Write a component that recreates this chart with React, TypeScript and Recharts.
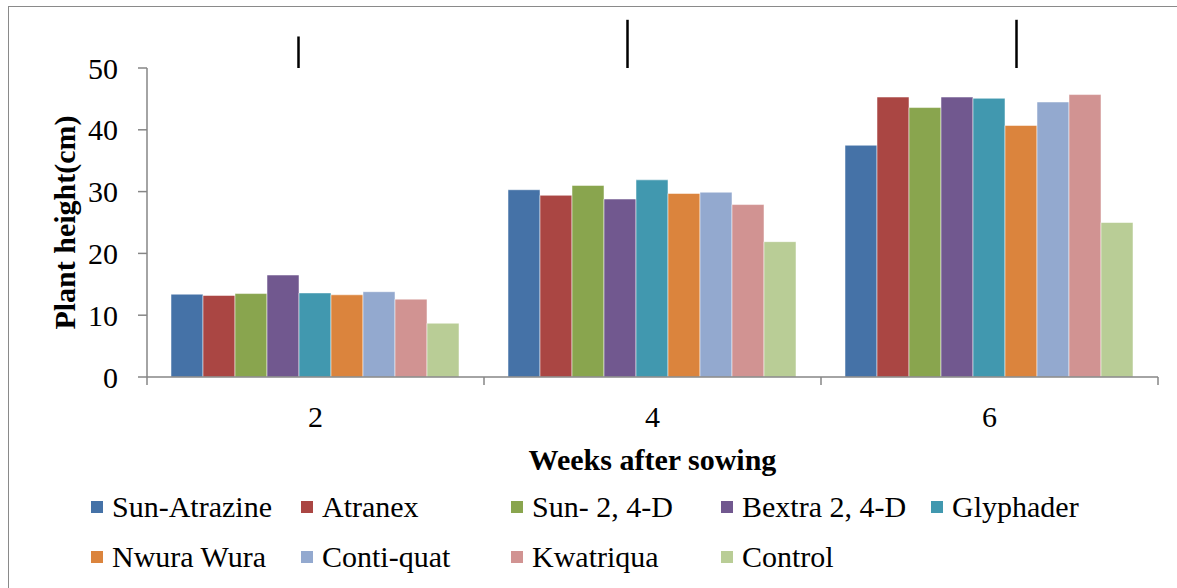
import React from 'react';
import { BarChart, Bar, XAxis, YAxis, Legend, ReferenceLine } from 'recharts';

// weeks after sowing (categories)
const weeks = ['2', '4', '6'];

// plant height (cm) per treatment
const sunAtrazine = [13.4, 30.3, 37.5];
const atranex = [13.2, 29.4, 45.3];
const sun24D = [13.5, 31.0, 43.6];
const bextra24D = [16.5, 28.8, 45.3];
const glyphader = [13.6, 31.9, 45.1];
const nwuraWura = [13.3, 29.7, 40.7];
const contiQuat = [13.8, 29.9, 44.5];
const kwatriqua = [12.6, 27.9, 45.7];
const control = [8.7, 21.9, 25.0];

// LSD bars drawn above the plot (top value, bottom at 50)
const lsdTop = [55.1, 57.8, 57.8];

const yTicks = [0, 10, 20, 30, 40, 50];

const series = [
  { key: 'sunAtrazine', name: 'Sun-Atrazine', color: '#4572A7', values: sunAtrazine },
  { key: 'atranex', name: 'Atranex', color: '#AA4643', values: atranex },
  { key: 'sun24D', name: 'Sun- 2, 4-D', color: '#89A54E', values: sun24D },
  { key: 'bextra24D', name: 'Bextra 2, 4-D', color: '#71588F', values: bextra24D },
  { key: 'glyphader', name: 'Glyphader', color: '#4198AF', values: glyphader },
  { key: 'nwuraWura', name: 'Nwura Wura', color: '#DB843D', values: nwuraWura },
  { key: 'contiQuat', name: 'Conti-quat', color: '#93A9CF', values: contiQuat },
  { key: 'kwatriqua', name: 'Kwatriqua', color: '#D19392', values: kwatriqua },
  { key: 'control', name: 'Control', color: '#B9CD96', values: control },
];

const data = weeks.map((w, i) => {
  const row: Record<string, string | number> = { week: w };
  series.forEach((s) => {
    row[s.key] = s.values[i];
  });
  return row;
});

const FONT = "'Liberation Serif', 'Times New Roman', serif";
const AXIS = '#868686';
const W = 1177;
const H = 588;
const MARGIN = { top: 68, right: 19, left: 0, bottom: 11 };
const Y_WIDTH = 147;
const HALF_BAND = (W - Y_WIDTH - MARGIN.right) / weeks.length / 2;

// horizontal nudge of each LSD bar from the group centre (px)
const lsdShift = [-17, -25, 27];

const XTick = (props: any) => {
  const { x, y, payload, index } = props;
  return (
    <g>
      <line x1={x - HALF_BAND} y1={y} x2={x - HALF_BAND} y2={y + 8} stroke={AXIS} strokeWidth={1.5} />
      {index === weeks.length - 1 && (
        <line x1={x + HALF_BAND} y1={y} x2={x + HALF_BAND} y2={y + 8} stroke={AXIS} strokeWidth={1.5} />
      )}
      <text x={x} y={y + 50} textAnchor="middle" fontFamily={FONT} fontSize={30} fill="#000">
        {payload.value}
      </text>
    </g>
  );
};

// legend drawn as svg so it uses the same serif face as the axes
const LegendContent = (props: any) => {
  const payload: any[] = props.payload || [];
  // keep series order (Recharts sorts legend items by name)
  const ordered = series.map(
    (s) => payload.find((p) => p.dataKey === s.key) || { value: s.name, color: s.color }
  );
  return (
    <svg width={1060} height={100} style={{ display: 'block' }}>
      {ordered.map((p: any, i: number) => {
        const col = i % 5;
        const row = Math.floor(i / 5);
        const x = col * 210;
        const y = row * 50;
        return (
          <g key={p.value}>
            <rect x={x} y={y + 19} width={12} height={12} fill={p.color} />
            <text x={x + 21} y={y + 35} fontFamily={FONT} fontSize={30} fill="#000">
              {p.value}
            </text>
          </g>
        );
      })}
    </svg>
  );
};

export default function App() {
  return (
    <div
      style={{
        position: 'absolute',
        left: 0,
        top: 0,
        width: W,
        height: H,
        background: '#fff',
        overflow: 'hidden',
      }}
    >
      <div
        style={{
          position: 'absolute',
          left: 8,
          top: 6,
          width: W,
          height: H,
          borderTop: '1.5px solid #8a8a8a',
          borderLeft: '1.5px solid #8a8a8a',
        }}
      />
      <BarChart width={W} height={H} data={data} margin={MARGIN} barCategoryGap={24} barGap={0}>
        <XAxis
          dataKey="week"
          stroke={AXIS}
          strokeWidth={1.5}
          tickLine={false}
          tickSize={0}
          tickMargin={0}
          height={100}
          tick={<XTick />}
          interval={0}
          label={(p: any) => {
            const vb = p.viewBox;
            return (
              <text
                x={vb.x + vb.width / 2}
                y={vb.y + 93}
                textAnchor="middle"
                fontFamily={FONT}
                fontSize={30}
                fontWeight="bold"
                fill="#000"
              >
                Weeks after sowing
              </text>
            );
          }}
        />
        <YAxis
          width={Y_WIDTH}
          domain={[0, 50]}
          ticks={yTicks}
          stroke={AXIS}
          strokeWidth={1.5}
          tickSize={9}
          tickMargin={20}
          tick={{ fill: '#000', fontFamily: FONT, fontSize: 30 }}
          label={(p: any) => {
            const vb = p.viewBox;
            const cx = 64;
            const cy = vb.y + vb.height / 2;
            return (
              <text
                x={cx}
                y={cy}
                transform={`rotate(-90 ${cx} ${cy})`}
                textAnchor="middle"
                dominantBaseline="central"
                fontFamily={FONT}
                fontSize={30}
                fontWeight="bold"
                fill="#000"
              >
                Plant height(cm)
              </text>
            );
          }}
        />
        <Legend
          content={<LegendContent />}
          wrapperStyle={{ position: 'absolute', left: 91, top: 482, bottom: 'auto', width: 1060 }}
        />
        {series.map((s) => (
          <Bar
            key={s.key}
            dataKey={s.key}
            name={s.name}
            fill={s.color}
            stroke="#ffffff"
            strokeOpacity={0.5}
            strokeWidth={1}
            isAnimationActive={false}
          />
        ))}
        {weeks.map((w, i) => (
          <ReferenceLine
            key={'lsd' + w}
            segment={[
              { x: w, y: 50 },
              { x: w, y: lsdTop[i] },
            ]}
            ifOverflow="visible"
            shape={(p: any) => (
              <line
                x1={p.x1 + lsdShift[i]}
                y1={p.y1}
                x2={p.x2 + lsdShift[i]}
                y2={p.y2}
                stroke="#000"
                strokeWidth={2.5}
              />
            )}
          />
        ))}
      </BarChart>
    </div>
  );
}
